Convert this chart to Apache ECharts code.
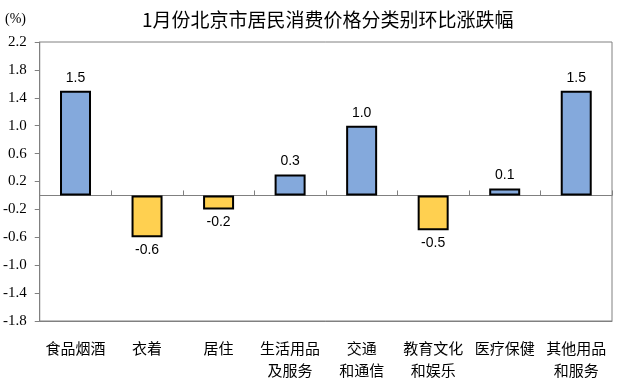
<!DOCTYPE html>
<html>
<head>
<meta charset="utf-8">
<script src="https://cdn.jsdelivr.net/npm/echarts@6/dist/echarts.min.js"></script>
<style>html,body{margin:0;padding:0;background:#fff;}#c{width:620px;height:391px;}</style>
</head>
<body>
<div id="c"></div>
<script>
const categories = ['食品烟酒', '衣着', '居住', '生活用品\n及服务', '交通\n和通信', '教育文化\n和娱乐', '医疗保健', '其他用品\n和服务'];
const values = [1.5, -0.6, -0.2, 0.3, 1.0, -0.5, 0.1, 1.5];
const yTicks = [-1.8, -1.4, -1.0, -0.6, -0.2, 0.2, 0.6, 1.0, 1.4, 1.8, 2.2];
const titleText = '1月份北京市居民消费价格分类别环比涨跌幅';
const unitText = '(%)';

const BLUE = '#84A9DC', YELLOW = '#FFD050', GRAY = '#808080';
const chart = echarts.init(document.getElementById('c'), null, {renderer: 'canvas'});
chart.setOption({
  animation: false,
  title: {
    text: titleText, left: 137, top: 5,
    textStyle: {fontFamily: 'Noto Sans CJK SC', fontSize: 19, fontWeight: 'normal', color: '#000'}
  },
  graphic: [{
    type: 'text', left: 5, top: 12,
    style: {text: unitText, fontFamily: 'Liberation Serif', fontSize: 14, fill: '#000'}
  }],
  grid: {left: 38, right: 8, top: 42, bottom: 70, show: true, borderColor: GRAY, borderWidth: 1},
  xAxis: [{
    type: 'category', data: categories, position: 'bottom',
    axisLine: {onZero: false, lineStyle: {color: GRAY}},
    axisTick: {show: false},
    axisLabel: {interval: 0, margin: 16, lineHeight: 22, fontFamily: 'Noto Sans CJK SC', fontSize: 15, color: '#000'}
  }, {
    type: 'category', data: categories, position: 'top',
    axisLine: {onZero: true, lineStyle: {color: GRAY}},
    axisTick: {show: true, length: 5, inside: false, lineStyle: {color: GRAY}},
    axisLabel: {show: false}
  }],
  yAxis: {
    type: 'value', min: -1.8, max: 2.2,
    splitLine: {show: false},
    axisLine: {show: true, lineStyle: {color: GRAY}},
    axisTick: {show: true, length: 5, customValues: yTicks, lineStyle: {color: GRAY}},
    axisLabel: {
      customValues: yTicks, margin: 13,
      formatter: v => v.toFixed(1),
      fontFamily: 'Liberation Serif', fontSize: 15, color: '#000'
    }
  },
  series: [{
    type: 'bar', xAxisIndex: 0, barWidth: 31,
    data: values.map(v => ({
      value: v,
      itemStyle: {color: v >= 0 ? BLUE : YELLOW, borderColor: '#000', borderWidth: 2},
      label: {position: v >= 0 ? 'top' : 'bottom'}
    })),
    label: {
      show: true, distance: 6, formatter: p => p.value.toFixed(1),
      fontFamily: 'Liberation Sans', fontSize: 14, color: '#000'
    }
  }]
});
</script>
</body>
</html>
